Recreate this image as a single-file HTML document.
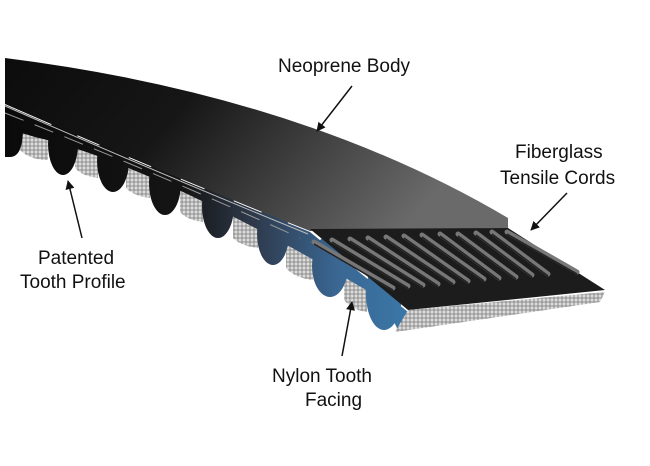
<!DOCTYPE html>
<html><head><style>
body{margin:0;background:#fff;}
svg{display:block}
text{font-family:"Liberation Sans",sans-serif;font-size:19px;fill:#111}
</style></head><body>
<svg width="650" height="466" viewBox="0 0 650 466" xmlns="http://www.w3.org/2000/svg">
<defs>
<linearGradient id="top" x1="0" y1="0" x2="1" y2="0.3">
<stop offset="0" stop-color="#0c0c0c"/><stop offset="0.4" stop-color="#161616"/><stop offset="1" stop-color="#6a6a6a"/>
</linearGradient>
<linearGradient id="side" gradientUnits="userSpaceOnUse" x1="0" y1="0" x2="410" y2="0">
<stop offset="0" stop-color="#0a0a0a"/><stop offset="0.45" stop-color="#151515"/><stop offset="0.62" stop-color="#2e3a4c"/><stop offset="0.82" stop-color="#3a6692"/><stop offset="1" stop-color="#3a78a8"/>
</linearGradient>
<pattern id="mesh" width="4" height="4" patternUnits="userSpaceOnUse">
<rect width="4" height="4" fill="#dcdcdc"/><path d="M0 2h4M2 0v4" stroke="#7a7a7a" stroke-width="0.8"/>
</pattern>
<marker id="ah" viewBox="0 0 10 10" refX="9" refY="5" markerWidth="7" markerHeight="6" orient="auto"><path d="M0 0L10 5L0 10z" fill="#111"/></marker>
</defs>
<g fill="url(#mesh)">
<path d="M20,132 L48,140 L48,160 Q30,160 20,150 Z"/>
<path d="M75,146 L98,155 L98,178 Q82,176 75,168 Z"/>
<path d="M126,164 L150,174 L150,198 Q134,196 126,188 Z"/>
<path d="M180,187 L203,197 L203,222 Q187,220 180,212 Z"/>
<path d="M233,212 L258,222 L258,248 Q241,246 233,238 Z"/>
<path d="M286,240 L313,252 L313,280 Q295,278 286,268 Z"/>
<path d="M344,272 L367,282 L367,312 Q352,310 344,300 Z"/>
</g>
<path d="M5,105 Q156,171 310,232 L408,312 L398,330 L383,300 Q156,165 35,137 L5,128 Z" fill="url(#side)"/>
<g fill="url(#side)">
<path d="M5,120 L23,128 Q23,157 10,157 L5,157 Z"/>
<ellipse cx="63" cy="144" rx="15" ry="31"/>
<ellipse cx="113" cy="161" rx="16" ry="31"/>
<ellipse cx="165" cy="183" rx="16" ry="32"/>
<ellipse cx="218" cy="206" rx="16" ry="32"/>
<ellipse cx="273" cy="234" rx="16" ry="31"/>
<ellipse cx="330" cy="266" rx="18" ry="31"/>
<ellipse cx="384" cy="294" rx="18" ry="36"/>
</g>
<path d="M5,106 Q156,172 308,234" stroke="#bbb" stroke-width="1" fill="none"/>
<path d="M5,113 Q150,170 300,238" stroke="#999" stroke-width="1" fill="none" stroke-dasharray="20 12"/>
<path d="M5,58 Q300,95 508,218 L508,228 L310,231 Q156,170 5,104 Z" fill="url(#top)"/>
<path d="M310,229 L508,228 L605,290 L408,310 Z" fill="#1c1c1c"/>
<g stroke="#777" stroke-width="5" stroke-linecap="round">
<line x1="314" y1="242" x2="393" y2="288"/><line x1="332" y1="240" x2="408" y2="286"/>
<line x1="350" y1="239" x2="423" y2="285"/><line x1="368" y1="238" x2="438" y2="284"/>
<line x1="386" y1="237" x2="453" y2="282"/><line x1="404" y1="236" x2="468" y2="281"/>
<line x1="422" y1="235" x2="484" y2="279"/><line x1="440" y1="234" x2="499" y2="278"/>
<line x1="458" y1="234" x2="516" y2="277"/><line x1="476" y1="233" x2="532" y2="275"/>
<line x1="492" y1="232" x2="548" y2="274"/><line x1="507" y1="232" x2="577" y2="272"/>
</g>
<g stroke="#222" stroke-width="1.5">
<line x1="314" y1="244" x2="393" y2="290"/><line x1="332" y1="242" x2="408" y2="288"/>
<line x1="350" y1="241" x2="423" y2="287"/><line x1="368" y1="240" x2="438" y2="286"/>
<line x1="386" y1="239" x2="453" y2="284"/><line x1="404" y1="238" x2="468" y2="283"/>
<line x1="422" y1="237" x2="484" y2="281"/><line x1="440" y1="236" x2="499" y2="280"/>
<line x1="458" y1="236" x2="516" y2="279"/><line x1="476" y1="235" x2="532" y2="277"/>
<line x1="492" y1="234" x2="548" y2="276"/><line x1="507" y1="234" x2="577" y2="274"/>
</g>
<path d="M408,310 L605,292 L600,302 L395,332 Z" fill="url(#mesh)"/>
<text x="278" y="72">Neoprene Body</text>
<text x="515" y="158">Fiberglass</text>
<text x="500" y="184">Tensile Cords</text>
<text x="38" y="264">Patented</text>
<text x="20" y="288">Tooth Profile</text>
<text x="272" y="382">Nylon Tooth</text>
<text x="305" y="406">Facing</text>
<g stroke="#111" stroke-width="1.5" marker-end="url(#ah)">
<line x1="352" y1="86" x2="317" y2="131"/>
<line x1="567" y1="193" x2="531" y2="230"/>
<line x1="82" y1="238" x2="68" y2="181"/>
<line x1="342" y1="356" x2="352" y2="302"/>
</g>
</svg>
</body></html>
